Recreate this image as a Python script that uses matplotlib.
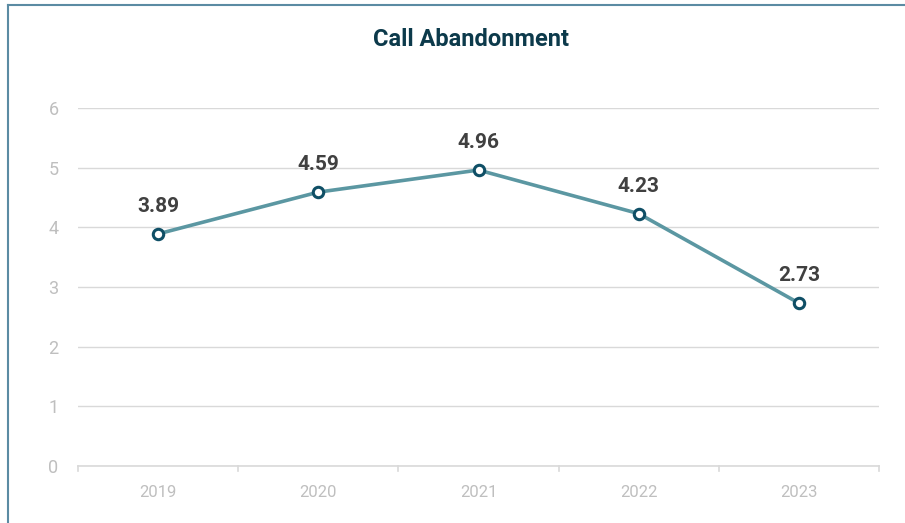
import matplotlib.pyplot as plt
from matplotlib.lines import Line2D

# Call abandonment rate by year
years = ["2019", "2020", "2021", "2022", "2023"]
abandonment = [3.89, 4.59, 4.96, 4.23, 2.73]
y_ticks = [0, 1, 2, 3, 4, 5, 6]

NARROW = ["Liberation Sans Narrow", "Roboto", "DejaVu Sans"]

fig = plt.figure(figsize=(9.05, 5.23), dpi=100)
ax = fig.add_axes([78 / 905, 1 - 466 / 523, 801 / 905, 358 / 523])

x = list(range(len(years)))
ax.plot(x, abandonment, color="#5b97a2", linewidth=2.6, zorder=3,
        marker="o", markersize=7.5, markerfacecolor="white",
        markeredgecolor="#0f4f66", markeredgewidth=2.2)

for xi, v in zip(x, abandonment):
    ax.annotate(f"{v:.2f}", (xi, v), xytext=(0, 13), textcoords="offset points",
                ha="center", va="bottom", fontsize=15, fontweight="bold",
                color="#404040", family=NARROW)

ax.set_xlim(-0.5, len(years) - 0.5)
ax.set_ylim(0, 6)
ax.set_yticks(y_ticks)
ax.set_xticks(x)
ax.set_xticklabels(years)
ax.grid(axis="y", color="#d9d9d9", linewidth=1)
ax.set_axisbelow(True)

for s in ["top", "right", "left"]:
    ax.spines[s].set_visible(False)
ax.spines["bottom"].set_color("#d9d9d9")
ax.spines["bottom"].set_linewidth(1.2)

ax.tick_params(axis="y", length=0, pad=14, labelsize=13, labelcolor="#bfbfbf")
ax.tick_params(axis="x", length=0, pad=14, labelsize=12, labelcolor="#bfbfbf")
for lab in ax.get_xticklabels() + ax.get_yticklabels():
    lab.set_family(NARROW)

# category boundary ticks below the axis
for b in [i - 0.5 for i in range(len(years) + 1)]:
    ax.add_line(Line2D([b, b], [0, -0.08], color="#d9d9d9", linewidth=1.2,
                       clip_on=False))

fig.text(471 / 905, 1 - 40 / 523, "Call Abandonment", ha="center", va="center",
         fontsize=17, fontweight="bold", color="#0c3a4b", family=NARROW)

# frame along the top and left edge
fig.add_artist(Line2D([8 / 905, 8 / 905], [0, 1 - 4.5 / 523], color="#5b8ba3",
                      linewidth=1.5, transform=fig.transFigure))
fig.add_artist(Line2D([8 / 905, 1], [1 - 4.5 / 523, 1 - 4.5 / 523],
                      color="#5b8ba3", linewidth=1.5, transform=fig.transFigure))

fig.savefig("out.png", dpi=100)
